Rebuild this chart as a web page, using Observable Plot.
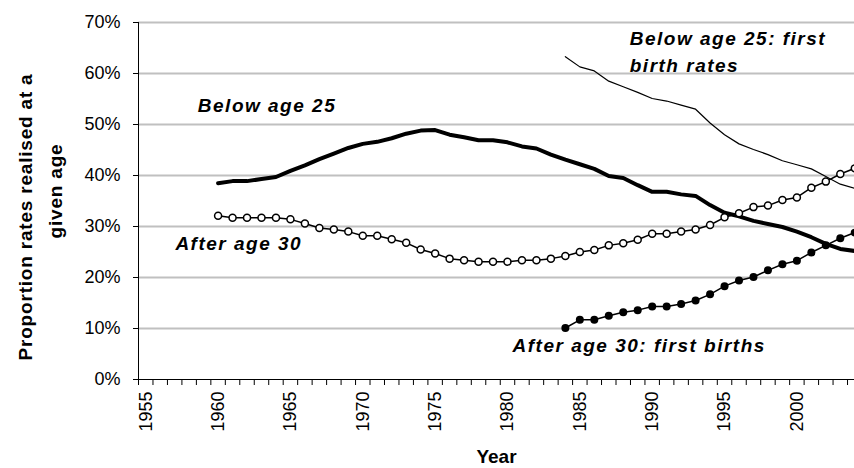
<!DOCTYPE html>
<html>
<head>
<meta charset="utf-8">
<script src="https://cdn.jsdelivr.net/npm/d3@7"></script>
<script src="https://cdn.jsdelivr.net/npm/@observablehq/plot@0.6"></script>
<style>
  html, body { margin: 0; padding: 0; background: #fff; overflow: hidden; }
  #chart svg { overflow: hidden; }
  g[font-style="italic"] text { letter-spacing: 1.5px; }
  g.ytitle text { letter-spacing: 0.8px; }
</style>
</head>
<body>
<div id="chart"></div>
<script>
// ---- Data (percent) ----
const yearsFull = [1960,1961,1962,1963,1964,1965,1966,1967,1968,1969,1970,1971,1972,1973,1974,1975,1976,1977,1978,1979,1980,1981,1982,1983,1984,1985,1986,1987,1988,1989,1990,1991,1992,1993,1994,1995,1996,1997,1998,1999,2000,2001,2002,2003,2004];
const yearsLate = [1984,1985,1986,1987,1988,1989,1990,1991,1992,1993,1994,1995,1996,1997,1998,1999,2000,2001,2002,2003,2004];

const belowAge25 = [38.5,38.9,38.9,39.3,39.7,40.9,42.0,43.2,44.3,45.4,46.2,46.6,47.3,48.2,48.8,48.9,48.0,47.5,46.9,46.9,46.5,45.7,45.3,44.1,43.1,42.2,41.3,39.9,39.5,38.1,36.8,36.8,36.3,36.0,34.2,32.7,32.0,31.1,30.5,29.9,29.0,27.9,26.6,25.6,25.2];
const afterAge30 = [32.1,31.7,31.7,31.7,31.7,31.4,30.6,29.7,29.4,29.0,28.2,28.2,27.5,26.8,25.5,24.7,23.7,23.4,23.1,23.1,23.1,23.4,23.4,23.7,24.2,25.0,25.4,26.3,26.7,27.4,28.6,28.6,29.0,29.4,30.3,31.8,32.6,33.8,34.1,35.2,35.7,37.6,38.8,40.3,41.4];
const belowAge25First = [63.3,61.3,60.5,58.5,57.4,56.3,55.1,54.6,53.8,53.0,50.3,48.0,46.2,45.1,44.1,42.9,42.1,41.3,39.8,38.3,37.5];
const afterAge30First = [10.1,11.7,11.7,12.5,13.2,13.6,14.3,14.3,14.8,15.5,16.7,18.3,19.4,20.1,21.4,22.6,23.3,24.9,26.3,27.7,28.8];

const yTicks = [0, 0.1, 0.2, 0.3, 0.4, 0.5, 0.6, 0.7];
const xTickLabels = [1955, 1960, 1965, 1970, 1975, 1980, 1985, 1990, 1995, 2000];

const seriesLabels = [
  {text: "Below age 25", year: 1958.6, value: 0.525},
  {text: "After age 30", year: 1957.05, value: 0.254},
  {text: "After age 30: first births", year: 1980.35, value: 0.054},
  {text: "Below age 25: first\nbirth rates", year: 1988.45, value: 0.603}
];
const yTitle1 = "Proportion rates realised at a";
const yTitle2 = "given age";
const xTitle = "Year";

// ---- Build rows ----
const rows = (yrs, vals) => yrs.map((year, i) => ({year, value: vals[i] / 100}));
const dBelow = rows(yearsFull, belowAge25);
const dAfter = rows(yearsFull, afterAge30);
const dBelowFirst = rows(yearsLate, belowAge25First);
const dAfterFirst = rows(yearsLate, afterAge30First);

const bandW = 14.47;
const minorTicks = d3.range(1954.5, 2005, 1);

const chart = Plot.plot({
  width: 854,
  height: 468,
  marginLeft: 138,
  marginRight: 0,
  marginTop: 22,
  marginBottom: 89,
  style: {fontFamily: "'Liberation Sans', Arial, sans-serif", background: "#fff", color: "#000"},
  x: {type: "linear", domain: [1954.5, 2004.5], range: [138, 138 + 50 * bandW]},
  y: {domain: [0, 0.7], range: [379, 22]},
  marks: [
    Plot.gridY(yTicks.slice(1), {stroke: "#c0c0c0", strokeWidth: 2, strokeOpacity: 1}),
    Plot.axisY({ticks: yTicks, tickFormat: d3.format(".0%"), tickSize: 5, tickPadding: 13, fontSize: 18, label: null, stroke: "#000"}),
    Plot.axisX({ticks: minorTicks, tickSize: 6, tickFormat: () => "", label: null, stroke: "#000"}),
    Plot.axisX({ticks: xTickLabels, tickSize: 0, tickPadding: 12, tickRotate: -90, tickFormat: d3.format("d"), fontSize: 18, label: null}),
    Plot.ruleX([1954.5], {stroke: "#000", strokeWidth: 1}),
    Plot.ruleY([0], {stroke: "#000", strokeWidth: 1}),

    Plot.line(dBelowFirst, {x: "year", y: "value", stroke: "#000", strokeWidth: 1.2}),
    Plot.line(dBelow, {x: "year", y: "value", stroke: "#000", strokeWidth: 4}),
    Plot.line(dAfter, {x: "year", y: "value", stroke: "#000", strokeWidth: 1.5}),
    Plot.dot(dAfter, {x: "year", y: "value", r: 3.5, fill: "#fff", stroke: "#000", strokeWidth: 1.5}),
    Plot.line(dAfterFirst, {x: "year", y: "value", stroke: "#000", strokeWidth: 1.5}),
    Plot.dot(dAfterFirst, {x: "year", y: "value", r: 4, fill: "#000", stroke: "none"}),

    Plot.text(seriesLabels, {x: "year", y: "value", text: "text", textAnchor: "start", lineAnchor: "bottom", lineHeight: 1.4, fontSize: 19, fontWeight: "bold", fontStyle: "italic", fill: "#000"}),

    Plot.text([yTitle1], {className: "ytitle", frameAnchor: "left", text: d => d, dx: -107, dy: 16, rotate: -90, lineAnchor: "bottom", textAnchor: "middle", fontSize: 19, fontWeight: "bold", fill: "#000"}),
    Plot.text([yTitle2], {className: "ytitle", frameAnchor: "left", text: d => d, dx: -77, dy: -10, rotate: -90, lineAnchor: "bottom", textAnchor: "middle", fontSize: 19, fontWeight: "bold", fill: "#000"}),
    Plot.text([xTitle], {frameAnchor: "bottom", text: d => d, dy: 83, lineAnchor: "bottom", fontSize: 19, fontWeight: "bold", fill: "#000"})
  ]
});
document.getElementById("chart").appendChild(chart);
</script>
</body>
</html>
